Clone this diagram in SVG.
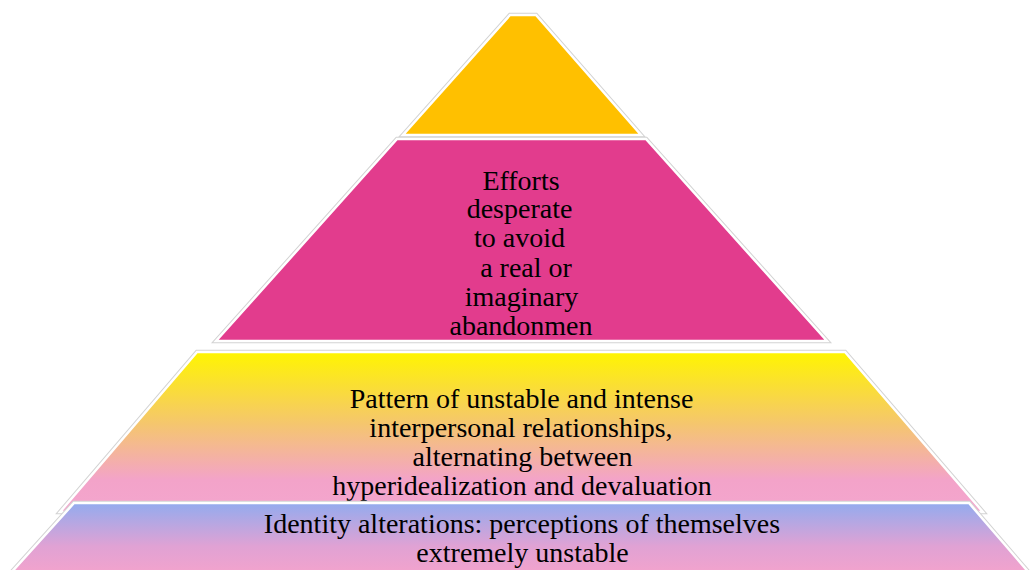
<svg xmlns="http://www.w3.org/2000/svg" width="1030" height="570" viewBox="0 0 1030 570">
  <defs>
    <linearGradient id="gradRel" x1="0" y1="0" x2="0" y2="1">
      <stop offset="0" stop-color="#FFF500"/>
      <stop offset="0.45" stop-color="#F5C66E"/>
      <stop offset="0.8" stop-color="#F3A3C9"/>
      <stop offset="1" stop-color="#F4A6CE"/>
    </linearGradient>
    <linearGradient id="gradId" x1="0" y1="0" x2="0" y2="1">
      <stop offset="0" stop-color="#93ABEE"/>
      <stop offset="0.6" stop-color="#E0A2D4"/>
      <stop offset="1" stop-color="#F4A3CC"/>
    </linearGradient>
    <style>
      .edge { fill: none; stroke: #d3d3d3; stroke-width: 4.5; stroke-linejoin: miter; }
      .band { stroke: #ffffff; stroke-width: 2.5; stroke-linejoin: miter; }
      text { font-family: "Liberation Serif", "Times New Roman", serif; font-size: 28px; fill: #000000; text-anchor: middle; }
    </style>
  </defs>

  <rect width="1030" height="570" fill="#ffffff"/>

  <!-- apex tier -->
  <g id="tier-apex">
    <polygon class="edge" points="510,15 536,15 641,135 403,135"/>
    <polygon class="band" fill="#FFC000" points="510,15 536,15 641,135 403,135"/>
  </g>

  <!-- abandonment tier -->
  <g id="tier-abandonment">
    <polygon class="edge" points="397,139 646,139 827,341 216,341"/>
    <polygon class="band" fill="#E23C8D" points="397,139 646,139 827,341 216,341"/>
    <text x="521" y="189.5">Efforts</text>
    <text x="519.5" y="218">desperate</text>
    <text x="519.5" y="247">to avoid</text>
    <text x="526" y="276.5">a real or</text>
    <text x="521.5" y="306">imaginary</text>
    <text x="521" y="335">abandonmen</text>
  </g>

  <!-- relationships tier -->
  <g id="tier-relationships">
    <polygon class="edge" points="197,352 845,352 983,512 60,512"/>
    <polygon class="band" fill="url(#gradRel)" points="197,352 845,352 983,512 60,512"/>
    <text x="521.5" y="408">Pattern of unstable and intense</text>
    <text x="521" y="436.5">interpersonal relationships,</text>
    <text x="522.5" y="465.5">alternating between</text>
    <text x="522" y="494.5">hyperidealization and devaluation</text>
  </g>

  <!-- identity tier -->
  <g id="tier-identity">
    <polygon class="edge" points="74,503 969,503 1031,575 9,575"/>
    <polygon class="band" fill="url(#gradId)" points="74,503 969,503 1031,575 9,575"/>
    <text x="522" y="533">Identity alterations: perceptions of themselves</text>
    <text x="522.5" y="562">extremely unstable</text>
  </g>
</svg>
